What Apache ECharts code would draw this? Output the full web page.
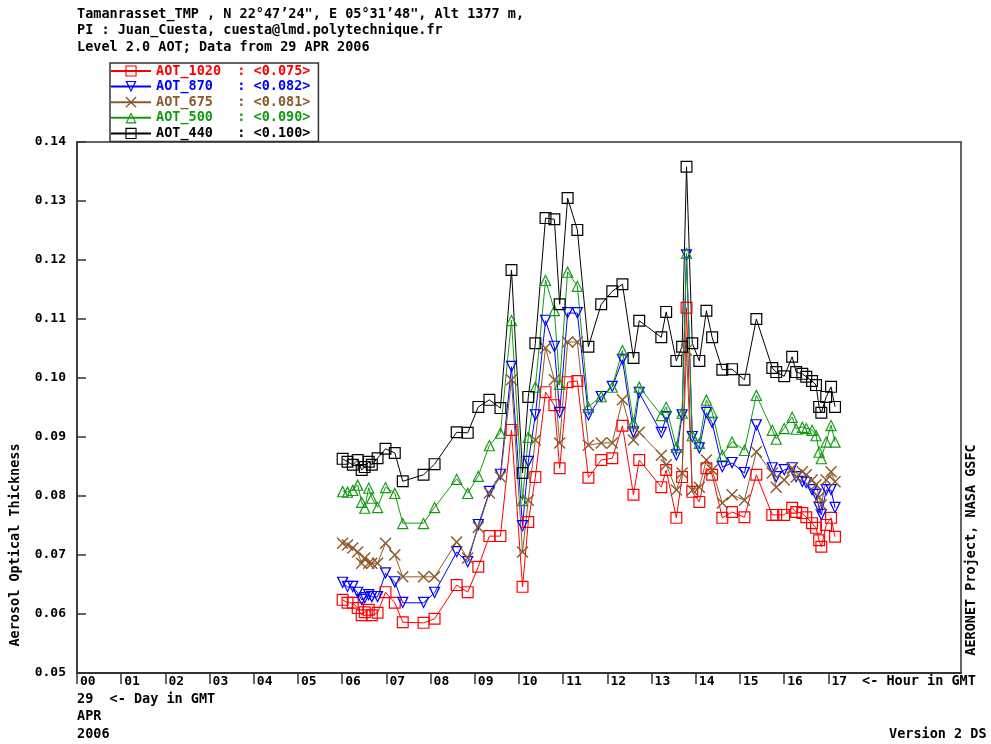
<html>
<head>
<meta charset="utf-8" />
<title>Tamanrasset_TMP AOT</title>
<style>
    body { margin: 0; padding: 0; background: #fff; }
    #chart { width: 991px; height: 744px; }
</style>
<script type="text/javascript" src="https://cdn.jsdelivr.net/npm/echarts@6/dist/echarts.min.js"></script>
</head>
<body>
<div id="chart"></div>
<script type="text/javascript">
    // measurement times, hour of day (GMT)
    var hours = [6.01, 6.12, 6.24, 6.35, 6.44, 6.51, 6.60, 6.67, 6.80, 6.98,
        7.19, 7.37, 7.84, 8.09, 8.59, 8.84, 9.08, 9.33, 9.58, 9.83,
        10.08, 10.21, 10.37, 10.60, 10.80, 10.92, 11.10, 11.32, 11.57, 11.86,
        12.11, 12.34, 12.59, 12.72, 13.22, 13.33, 13.56, 13.69, 13.79, 13.92,
        14.08, 14.24, 14.37, 14.60, 14.82, 15.10, 15.37, 15.73, 15.82, 16.00,
        16.18, 16.27, 16.41, 16.50, 16.63, 16.72, 16.79, 16.84, 16.95, 17.06,
        17.15];

    var aot1020 = [0.0624, 0.0619, 0.0619, 0.0610, 0.0598, 0.0603, 0.0607, 0.0598, 0.0602, 0.0637,
        0.0619, 0.0586, 0.0585, 0.0592, 0.0649, 0.0637, 0.0680, 0.0732, 0.0732, 0.0912,
        0.0646, 0.0756, 0.0832, 0.0976, 0.0954, 0.0847, 0.0993, 0.0995, 0.0831, 0.0861,
        0.0864, 0.0919, 0.0802, 0.0861, 0.0815, 0.0844, 0.0763, 0.0832, 0.1119, 0.0807,
        0.0790, 0.0847, 0.0836, 0.0763, 0.0773, 0.0764, 0.0836, 0.0768, 0.0768, 0.0768,
        0.0780, 0.0773, 0.0771, 0.0764, 0.0754, 0.0746, 0.0725, 0.0714, 0.0751, 0.0763,
        0.0731];

    var aot870 = [0.0653, 0.0646, 0.0646, 0.0636, 0.0624, 0.0627, 0.0632, 0.0629, 0.0629, 0.0669,
        0.0654, 0.0619, 0.0619, 0.0636, 0.0705, 0.0688, 0.0751, 0.0807, 0.0836, 0.1019,
        0.0749, 0.0858, 0.0937, 0.1097, 0.1053, 0.0941, 0.1110, 0.1110, 0.0937, 0.0968,
        0.0985, 0.1031, 0.0908, 0.0975, 0.0907, 0.0934, 0.0869, 0.0937, 0.1208, 0.0900,
        0.0881, 0.0941, 0.0924, 0.0849, 0.0856, 0.0839, 0.0920, 0.0847, 0.0832, 0.0844,
        0.0847, 0.0832, 0.0824, 0.0822, 0.0810, 0.0802, 0.0780, 0.0768, 0.0810, 0.0810,
        0.0780];

    var aot675 = [0.0720, 0.0717, 0.0712, 0.0705, 0.0686, 0.0695, 0.0686, 0.0686, 0.0686, 0.0720,
        0.0700, 0.0663, 0.0663, 0.0663, 0.0722, 0.0695, 0.0747, 0.0805, 0.0832, 0.0997,
        0.0705, 0.0793, 0.0895, 0.1051, 0.0997, 0.0890, 0.1061, 0.1061, 0.0886, 0.0890,
        0.0890, 0.0963, 0.0895, 0.0908, 0.0869, 0.0853, 0.0810, 0.0839, 0.1047, 0.0810,
        0.0815, 0.0861, 0.0844, 0.0788, 0.0802, 0.0793, 0.0875, 0.0839, 0.0815, 0.0827,
        0.0847, 0.0832, 0.0841, 0.0836, 0.0827, 0.0819, 0.0798, 0.0785, 0.0827, 0.0841,
        0.0824];

    var aot500 = [0.0808, 0.0807, 0.0810, 0.0819, 0.0790, 0.0780, 0.0814, 0.0797, 0.0781, 0.0815,
        0.0805, 0.0754, 0.0754, 0.0781, 0.0829, 0.0805, 0.0834, 0.0886, 0.0907, 0.1098,
        0.0793, 0.0900, 0.0985, 0.1166, 0.1115, 0.0990, 0.1180, 0.1156, 0.0951, 0.0969,
        0.0985, 0.1047, 0.0924, 0.0985, 0.0937, 0.0951, 0.0883, 0.0941, 0.1212, 0.0903,
        0.0890, 0.0963, 0.0942, 0.0869, 0.0892, 0.0878, 0.0971, 0.0912, 0.0897, 0.0915,
        0.0934, 0.0914, 0.0917, 0.0915, 0.0912, 0.0903, 0.0875, 0.0864, 0.0892, 0.0920,
        0.0892];

    var aot440 = [0.0863, 0.0858, 0.0853, 0.0861, 0.0844, 0.0849, 0.0858, 0.0853, 0.0864, 0.0880,
        0.0873, 0.0825, 0.0836, 0.0854, 0.0908, 0.0907, 0.0951, 0.0963, 0.0949, 0.1183,
        0.0839, 0.0968, 0.1059, 0.1271, 0.1269, 0.1125, 0.1305, 0.1251, 0.1053, 0.1125,
        0.1147, 0.1159, 0.1034, 0.1097, 0.1069, 0.1112, 0.1029, 0.1053, 0.1358, 0.1059,
        0.1029, 0.1114, 0.1069, 0.1014, 0.1015, 0.0997, 0.1100, 0.1017, 0.1010, 0.1003,
        0.1036, 0.1010, 0.1007, 0.1002, 0.0995, 0.0988, 0.0951, 0.0941, 0.0968, 0.0985,
        0.0951];

    var seriesNames = ['AOT_1020', 'AOT_870', 'AOT_675', 'AOT_500', 'AOT_440'];
    var seriesMeans = ['0.075', '0.082', '0.081', '0.090', '0.100'];
    var seriesColors = ['#ff0000', '#0000ff', '#8b5a2b', '#129a12', '#000000'];
    var hourTicks = [0, 1, 2, 3, 4, 5, 6, 7, 8, 9, 10, 11, 12, 13, 14, 15, 16, 17];

    // outline markers (holes cut by reversed inner paths)
    var SQUARE = 'path://M0,0H12V12H0Z M1.2,1.2V10.8H10.8V1.2Z';
    var DOWN_TRI = 'path://M0,0L12,0L6,12Z M2.1,1.1L6,9.4L9.9,1.1Z';
    var UP_TRI = 'path://M6,0L12,12L0,12Z M6,2.6L1.9,10.9L10.1,10.9Z';
    var CROSS = 'path://M0,1L1,0L6,5L11,0L12,1L7,6L12,11L11,12L6,7L1,12L0,11L5,6Z';
    var symbols = [SQUARE, DOWN_TRI, CROSS, UP_TRI, SQUARE];
    var values = [aot1020, aot870, aot675, aot500, aot440];

    var FONT = '"DejaVu Sans Mono", "Liberation Mono", monospace';

    function pair(ys) {
        return hours.map(function (h, i) { return [h, ys[i]]; });
    }

    var series = seriesNames.map(function (name, i) {
        return {
            name: name,
            type: 'line',
            data: pair(values[i]),
            symbol: symbols[i],
            symbolSize: 12,
            showAllSymbol: true,
            color: seriesColors[i],
            itemStyle: { color: seriesColors[i], borderWidth: 0 },
            lineStyle: { color: seriesColors[i], width: 1 },
            animation: false
        };
    });

    var chart = echarts.init(document.getElementById('chart'));
    chart.setOption({
        backgroundColor: '#fff',
        animation: false,
        title: {
            text: 'Tamanrasset_TMP , N 22°47’24", E 05°31’48", Alt 1377 m,\nPI : Juan_Cuesta, cuesta@lmd.polytechnique.fr\nLevel 2.0 AOT; Data from 29 APR 2006',
            left: 72,
            top: 1,
            textStyle: { fontFamily: FONT, fontSize: 13.5, fontWeight: 'bold', color: '#000', lineHeight: 16.5 }
        },
        legend: {
            orient: 'vertical',
            left: 110,
            top: 63,
            padding: [1, 8, 1, 0],
            itemWidth: 40,
            itemHeight: 14,
            itemGap: 1.6,
            selectedMode: false,
            backgroundColor: '#fff',
            borderColor: '#333',
            borderWidth: 1.5,
            borderRadius: 0,
            data: seriesNames.map(function (n, i) {
                return { name: n, textStyle: { color: seriesColors[i] } };
            }),
            formatter: function (name) {
                var i = seriesNames.indexOf(name);
                var pad = '          '.slice(0, 10 - name.length);
                return name + pad + ': <' + seriesMeans[i] + '>';
            },
            textStyle: { fontFamily: FONT, fontSize: 13.5, fontWeight: 'bold' },
            z: 10
        },
        grid: {
            left: 77, right: 30, top: 142, bottom: 71,
            show: true, borderColor: '#333', borderWidth: 1.5, backgroundColor: 'transparent'
        },
        xAxis: {
            type: 'value',
            min: 0, max: 20, interval: 1,
            splitLine: { show: false },
            axisLine: { lineStyle: { color: '#333', width: 2 } },
            axisTick: { show: true, inside: false, length: 11, customValues: hourTicks, lineStyle: { color: '#333', width: 1.5 } },
            axisLabel: {
                customValues: hourTicks,
                margin: 2,
                align: 'left',
                padding: [0, 0, 0, 3],
                fontFamily: FONT, fontSize: 13, fontWeight: 'bold', color: '#000',
                formatter: function (v) { return (v < 10 ? '0' : '') + v; }
            }
        },
        yAxis: {
            type: 'value',
            min: 0.05, max: 0.14, interval: 0.01,
            splitLine: { show: false },
            axisLine: { lineStyle: { color: '#333', width: 1.5 } },
            axisTick: { inside: true, length: 9, lineStyle: { color: '#333', width: 1.5 } },
            axisLabel: {
                margin: 11,
                fontFamily: FONT, fontSize: 13, fontWeight: 'bold', color: '#000',
                formatter: function (v) { return v.toFixed(2); }
            }
        },
        graphic: [
            { type: 'text', x: 15, y: 545, rotation: Math.PI / 2,
              style: { text: 'Aerosol Optical Thickness', font: 'bold 13.5px ' + FONT, fill: '#000', textAlign: 'center', textVerticalAlign: 'middle' } },
            { type: 'text', x: 971, y: 550, rotation: Math.PI / 2,
              style: { text: 'AERONET Project, NASA GSFC', font: 'bold 13.5px ' + FONT, fill: '#000', textAlign: 'center', textVerticalAlign: 'middle' } },
            { type: 'text', x: 862, y: 681,
              style: { text: '<- Hour in GMT', font: 'bold 13.5px ' + FONT, fill: '#000', textAlign: 'left', textVerticalAlign: 'middle' } },
            { type: 'text', x: 77, y: 699,
              style: { text: '29  <- Day in GMT', font: 'bold 13.5px ' + FONT, fill: '#000', textAlign: 'left', textVerticalAlign: 'middle' } },
            { type: 'text', x: 77, y: 716,
              style: { text: 'APR', font: 'bold 13.5px ' + FONT, fill: '#000', textAlign: 'left', textVerticalAlign: 'middle' } },
            { type: 'text', x: 77, y: 734,
              style: { text: '2006', font: 'bold 13.5px ' + FONT, fill: '#000', textAlign: 'left', textVerticalAlign: 'middle' } },
            { type: 'text', x: 889, y: 734,
              style: { text: 'Version 2 DS', font: 'bold 13.5px ' + FONT, fill: '#000', textAlign: 'left', textVerticalAlign: 'middle' } }
        ],
        series: series
    });
</script>
</body>
</html>
